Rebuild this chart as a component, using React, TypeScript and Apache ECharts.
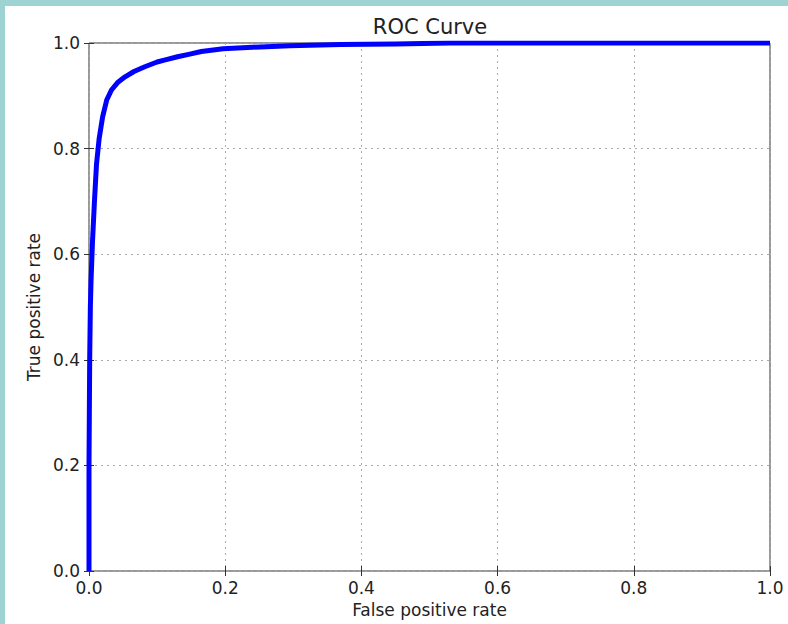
import React, { useEffect, useRef } from "react";
import * as echarts from "echarts";

const fpr = [0, 0, 0.001, 0.002, 0.003, 0.005, 0.008, 0.011, 0.015, 0.02, 0.026, 0.033, 0.042, 0.053, 0.066, 0.082, 0.1, 0.112, 0.13, 0.148, 0.165, 0.197, 0.24, 0.295, 0.37, 0.45, 0.53, 1.0];
const tpr = [0, 0.2, 0.4, 0.5, 0.55, 0.62, 0.7, 0.77, 0.82, 0.86, 0.892, 0.911, 0.925, 0.936, 0.946, 0.955, 0.964, 0.968, 0.974, 0.979, 0.984, 0.989, 0.992, 0.995, 0.997, 0.998, 1.0, 1.0];

const FONT = "DejaVu Sans";
const TEXT = "#222";
const FRAME = "#333";

export default function App() {
  const ref = useRef<HTMLDivElement>(null);
  useEffect(() => {
    if (!ref.current) return;
    const chart = echarts.init(ref.current, null, { renderer: "svg" });
    const data = fpr.map((x, i) => [x, tpr[i]]);
    const fmt = (v: number) => v.toFixed(1);
    const tick = { show: true, inside: true, length: 5, lineStyle: { color: FRAME, width: 1 } };
    const grid = { type: [2, 4] as any, color: "#aaa", width: 1 };
    chart.setOption({
      animation: false,
      backgroundColor: "#fff",
      title: {
        text: "ROC Curve",
        left: 425,
        top: 11,
        textAlign: "center",
        textStyle: { fontFamily: FONT, fontSize: 21, fontWeight: "normal", color: TEXT },
      },
      grid: {
        left: 89,
        right: 18,
        top: 43,
        bottom: 53,
        show: true,
        borderColor: FRAME,
        borderWidth: 1,
        backgroundColor: "#fff",
      },
      graphic: [
        { type: "rect", shape: { x: 0, y: 0, width: 788, height: 6 }, style: { fill: "#9ed3d4" }, z: 100 },
        { type: "rect", shape: { x: 0, y: 0, width: 5, height: 624 }, style: { fill: "#9ed3d4" }, z: 100 },
      ],
      xAxis: [
        {
          type: "value",
          min: 0,
          max: 1,
          interval: 0.2,
          position: "bottom",
          name: "False positive rate",
          nameLocation: "middle",
          nameGap: 30,
          nameTextStyle: { fontFamily: FONT, fontSize: 17, color: TEXT, verticalAlign: "top" },
          axisLine: { show: false },
          axisTick: tick,
          axisLabel: { fontFamily: FONT, fontSize: 17, color: TEXT, margin: 8, formatter: fmt },
          splitLine: { show: true, lineStyle: grid },
        },
        {
          type: "value",
          min: 0,
          max: 1,
          interval: 0.2,
          position: "top",
          axisLine: { show: false },
          axisTick: tick,
          axisLabel: { show: false },
          splitLine: { show: false },
        },
      ],
      yAxis: [
        {
          type: "value",
          min: 0,
          max: 1,
          interval: 0.2,
          position: "left",
          name: "True positive rate",
          nameLocation: "middle",
          nameGap: 46,
          nameRotate: 90,
          nameTextStyle: { fontFamily: FONT, fontSize: 17, color: TEXT },
          axisLine: { show: false },
          axisTick: tick,
          axisLabel: { fontFamily: FONT, fontSize: 17, color: TEXT, margin: 9, formatter: fmt },
          splitLine: { show: true, lineStyle: grid },
        },
        {
          type: "value",
          min: 0,
          max: 1,
          interval: 0.2,
          position: "right",
          axisLine: { show: false },
          axisTick: tick,
          axisLabel: { show: false },
          splitLine: { show: false },
        },
      ],
      series: [
        {
          type: "line",
          data,
          xAxisIndex: 0,
          yAxisIndex: 0,
          showSymbol: false,
          symbol: "none",
          lineStyle: { color: "#0000ff", width: 5, join: "round" },
          clip: true,
        },
      ],
    });
    return () => chart.dispose();
  }, []);
  return (
    <div style={{ position: "fixed", left: 0, top: 0, width: 788, height: 624 }}>
      <div ref={ref} style={{ width: 788, height: 624 }} />
    </div>
  );
}
